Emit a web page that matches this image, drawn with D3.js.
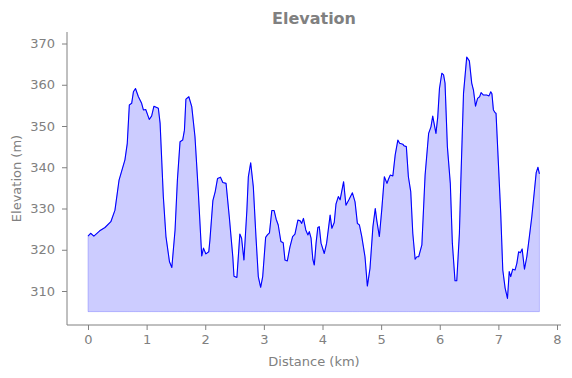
<!DOCTYPE html>
<html>
<head>
<meta charset="utf-8">
<script src="https://cdn.jsdelivr.net/npm/d3@7"></script>
<style>
  body { margin: 0; background: #fff; }
  svg text { font-family: "DejaVu Sans", sans-serif; fill: #808080; }
</style>
</head>
<body>
<div id="chart"></div>
<script>
// distance along the route (km)
const distance = [
  0, 0.045, 0.10, 0.20, 0.29, 0.39, 0.46, 0.53, 0.63, 0.67, 0.705, 0.745, 0.775, 0.81, 0.86, 0.915, 0.945, 0.985,
  1.045, 1.085, 1.125, 1.20, 1.23, 1.285, 1.33, 1.39, 1.43, 1.485, 1.525, 1.57, 1.615, 1.645, 1.67, 1.72, 1.77,
  1.825, 1.88, 1.94, 1.97, 2.01, 2.06, 2.08, 2.13, 2.17, 2.21, 2.26, 2.30, 2.355, 2.41, 2.47, 2.49, 2.54, 2.59,
  2.62, 2.66, 2.71, 2.735, 2.775, 2.82, 2.865, 2.905, 2.945, 2.98, 3.03, 3.06, 3.095, 3.135, 3.175, 3.21, 3.245,
  3.29, 3.33, 3.36, 3.40, 3.445, 3.49, 3.53, 3.58, 3.62, 3.645, 3.675, 3.715, 3.75, 3.775, 3.805, 3.835, 3.86,
  3.89, 3.92, 3.945, 3.975, 4.03, 4.07, 4.13, 4.16, 4.20, 4.23, 4.27, 4.30, 4.36, 4.40, 4.45, 4.51, 4.555, 4.595,
  4.63, 4.67, 4.725, 4.765, 4.81, 4.86, 4.90, 4.925, 4.97, 5.01, 5.055, 5.10, 5.125, 5.155, 5.20, 5.24, 5.285,
  5.315, 5.37, 5.39, 5.43, 5.465, 5.505, 5.54, 5.58, 5.61, 5.64, 5.695, 5.75, 5.81, 5.85, 5.88, 5.935, 5.965,
  5.995, 6.035, 6.065, 6.09, 6.13, 6.18, 6.215, 6.26, 6.29, 6.335, 6.36, 6.405, 6.46, 6.505, 6.545, 6.575, 6.61,
  6.645, 6.68, 6.705, 6.745, 6.80, 6.84, 6.87, 6.89, 6.915, 6.945, 6.96, 7.00, 7.04, 7.075, 7.115, 7.155, 7.185,
  7.21, 7.245, 7.285, 7.315, 7.345, 7.375, 7.405, 7.445, 7.485, 7.525, 7.57, 7.61, 7.645, 7.675, 7.70
];
// elevation (m)
const elevation = [
  323.3, 324.0, 323.3, 324.6, 325.4, 326.8, 329.6, 336.9, 341.8, 345.8, 355.1, 355.5, 358.3, 359.1, 357.1, 355.5, 353.9, 354.0,
  351.6, 352.4, 354.8, 354.3, 350.7, 332.9, 323.2, 317.1, 315.7, 324.8, 336.9, 346.2, 346.6, 349.0, 356.5, 357.1, 354.7,
  347.4, 334.5, 318.5, 320.4, 319.0, 319.5, 322.4, 331.9, 334.1, 337.3, 337.6, 336.3, 336.1, 328.0, 318.3, 313.6, 313.3, 323.8,
  322.8, 317.5, 329.6, 337.7, 341.1, 335.3, 323.2, 313.5, 310.9, 313.5, 323.0, 323.6, 324.1, 329.5, 329.5, 327.4, 326.0,
  322.0, 321.7, 317.5, 317.3, 320.7, 323.2, 323.8, 327.2, 327.0, 326.4, 327.6, 324.8, 323.6, 324.4, 322.8, 317.7, 316.3,
  321.6, 325.4, 325.6, 321.6, 319.1, 321.6, 328.4, 325.2, 326.6, 331.1, 332.9, 332.1, 336.5, 330.8, 332.1, 333.8, 331.6, 326.4,
  326.0, 323.2, 318.3, 311.2, 315.5, 325.6, 330.0, 327.2, 323.2, 329.6, 337.7, 336.1, 337.1, 338.1, 337.9, 343.0, 346.6,
  345.8, 345.6, 345.2, 345.0, 337.7, 334.1, 324.0, 317.7, 318.3, 318.3, 321.2, 338.1, 348.2, 349.8, 352.4, 348.2, 352.1,
  359.1, 362.8, 362.4, 360.4, 345.0, 336.1, 321.6, 312.5, 312.5, 324.0, 336.9, 357.9, 366.7, 365.8, 360.4, 358.7, 354.8,
  356.7, 357.1, 358.1, 357.5, 357.5, 357.3, 358.3, 357.8, 353.9, 353.2, 353.1, 341.0, 328.8, 315.1, 310.7, 308.2, 314.7,
  313.5, 315.3, 315.1, 316.7, 319.5, 319.3, 320.2, 315.3, 318.3, 322.8, 328.0, 333.7, 338.7, 340.0, 338.4
];
const xTicks = [0, 1, 2, 3, 4, 5, 6, 7, 8];
const yTicks = [310, 320, 330, 340, 350, 360, 370];
const fillBase = 305;

const W = 572, H = 378;
const MARGIN = {TOP: 32, BOTTOM: 53, LEFT: 67, RIGHT: 11};

const data = distance.map((d, i) => ({d: d, e: elevation[i]}));

const svg = d3.select('#chart').append('svg')
  .attr('width', W)
  .attr('height', H);

const x = d3.scaleLinear()
  .domain([-0.358, 8.068])
  .range([MARGIN.LEFT, W - MARGIN.RIGHT]);

const y = d3.scaleLinear()
  .domain([301.76, 372.79])
  .range([H - MARGIN.BOTTOM, MARGIN.TOP]);

// shaded area under the profile
const area = d3.area()
  .x(p => x(p.d))
  .y0(y(fillBase))
  .y1(p => y(p.e));

svg.append('path')
  .datum(data)
  .attr('d', area)
  .attr('fill', 'rgba(0,0,255,0.2)')
  .attr('stroke', 'rgba(0,0,255,0.2)')
  .attr('stroke-width', 1);

const line = d3.line()
  .x(p => x(p.d))
  .y(p => y(p.e));

svg.append('path')
  .datum(data)
  .attr('d', line)
  .attr('fill', 'none')
  .attr('stroke', '#0000ff')
  .attr('stroke-width', 1.1)
  .attr('stroke-linejoin', 'round');

// axes
const xAxis = svg.append('g')
  .attr('transform', `translate(0, ${H - MARGIN.BOTTOM})`)
  .call(d3.axisBottom(x).tickValues(xTicks).tickSize(5).tickPadding(5).tickFormat(d3.format('d')));

const yAxis = svg.append('g')
  .attr('transform', `translate(${MARGIN.LEFT}, 0)`)
  .call(d3.axisLeft(y).tickValues(yTicks).tickSize(5).tickPadding(7).tickFormat(d3.format('d')));

[xAxis, yAxis].forEach(g => {
  g.select('.domain').attr('stroke', '#808080').attr('stroke-width', 1)
    .attr('d', g === xAxis
      ? `M${MARGIN.LEFT},0H${W - MARGIN.RIGHT}`
      : `M0,${MARGIN.TOP}V${H - MARGIN.BOTTOM}`);
  g.selectAll('.tick line').attr('stroke', '#808080');
  g.selectAll('.tick text')
    .attr('font-size', 13)
    .attr('font-family', 'DejaVu Sans, sans-serif')
    .attr('fill', '#808080');
});

// labels
svg.append('text')
  .attr('x', (MARGIN.LEFT + W - MARGIN.RIGHT) / 2)
  .attr('y', 24)
  .attr('text-anchor', 'middle')
  .attr('font-size', 16)
  .attr('font-weight', 'bold')
  .text('Elevation');

svg.append('text')
  .attr('x', (MARGIN.LEFT + W - MARGIN.RIGHT) / 2)
  .attr('y', 366)
  .attr('text-anchor', 'middle')
  .attr('font-size', 13)
  .text('Distance (km)');

svg.append('text')
  .attr('transform', `translate(21, ${(MARGIN.TOP + H - MARGIN.BOTTOM) / 2}) rotate(-90)`)
  .attr('text-anchor', 'middle')
  .attr('font-size', 13)
  .text('Elevation (m)');
</script>
</body>
</html>
